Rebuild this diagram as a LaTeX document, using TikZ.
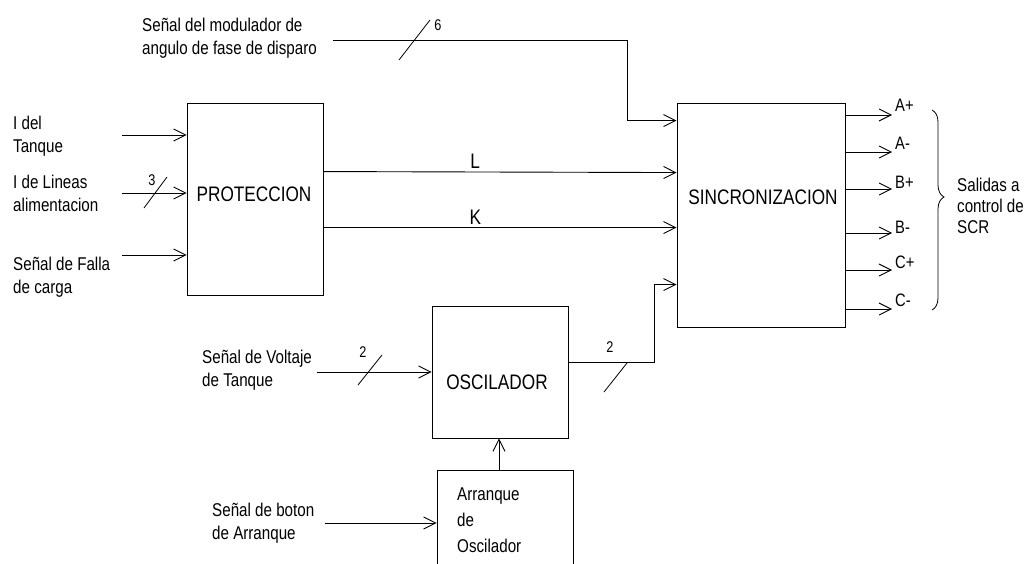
\documentclass[tikz,border=0pt]{standalone}
\usepackage{fontspec}
\setmainfont{Liberation Sans}[FakeStretch=0.82]
\usetikzlibrary{arrows.meta,positioning,calc,decorations.pathreplacing}

\tikzset{
  blk/.style={draw, line width=0.9pt, minimum width=136pt, inner sep=0pt},
  lbl/.style={font=\fontsize{18.5}{23}\selectfont, align=left, inner sep=0pt},
  big/.style={font=\fontsize{21}{25}\selectfont, inner sep=0pt},
  num/.style={font=\fontsize{15.5}{18}\selectfont, inner sep=0pt},
  outlbl/.style={font=\fontsize{18}{22}\selectfont, inner sep=0pt, anchor=west},
  arr/.style={line width=0.9pt, -{Straight Barb[length=12pt,width=12pt]}},
  bus/.style={line width=0.8pt},
}

\begin{document}
\begin{tikzpicture}[x=1pt, y=-1pt]
  \useasboundingbox (0,0) rectangle (1027,564);

  % blocks
  \node[blk, minimum height=192pt] (prot) at (255,199) {};
  \node[big] (protlbl) at (254,194) {PROTECCION};
  \node[blk, minimum width=168pt, minimum height=224pt] (sync) at (761,215) {};
  \node[big] (synclbl) at (763,197) {SINCRONIZACION};
  \node[blk, minimum height=132pt] (osc) at (500,372) {};
  \node[big] (osclbl) at (497,382) {OSCILADOR};
  \node[blk, minimum height=130pt] (arrq) at (505,535) {};
  \node[lbl, font=\fontsize{18.5}{26}\selectfont, anchor=north west] (arrqlbl) at (457,488) {Arranque\\de\\Oscilador};

  % inputs to proteccion
  \node[lbl, anchor=west] (tanqlbl) at (13,136) {I del\\Tanque};
  \node[lbl, anchor=west] (lineaslbl) at (13,193) {I de Lineas\\alimentacion};
  \node[lbl, anchor=west] (fallalbl) at (13,277) {Señal de Falla\\de carga};
  \coordinate (tanq) at (122,135);
  \coordinate (lineas) at (122,193);
  \coordinate (falla) at (122,255);
  \draw[arr] (tanq) -- (tanq -| prot.west);
  \draw[arr] (lineas) -- (lineas -| prot.west);
  \draw[arr] (falla) -- (falla -| prot.west);
  \draw[bus] (155,193) ++(-11,15) -- ++(23,-31);
  \node[num] (n3) at (152,180) {3};

  % proteccion -> sincronizacion
  \draw[arr] ([yshift=-69pt]prot.north east) -- ([yshift=-70pt]sync.north west)
    node[big, pos=0.43, above=3pt] (lblL) {L};
  \draw[arr] ([yshift=-125pt]prot.north east) -- ([yshift=-125pt]sync.north west)
    node[big, pos=0.43, above=3pt] (lblK) {K};

  % modulador de fase
  \node[lbl, anchor=west] (modlbl) at (142,38) {Señal del modulador de\\angulo de fase de disparo};
  \coordinate (mod) at (333,40);
  \draw[arr] (mod) -- (627,40) |- ([yshift=-18pt]sync.north west);
  \draw[bus] (414,40) ++(-15,20) -- ++(31,-40);
  \node[num] (n6) at (438,25) {6};

  % oscilador
  \node[lbl, anchor=west] (voltlbl) at (202,370) {Señal de Voltaje\\de Tanque};
  \coordinate (volt) at (317,372);
  \draw[arr] (volt) -- (osc.west);
  \draw[bus] (370,370) ++(-12,15) -- ++(24,-30);
  \node[num] (n2a) at (363,352) {2};
  \draw[arr] ([yshift=10pt]osc.east) -- (654,362) |- ([yshift=-182pt]sync.north west);
  \draw[bus] (627,363) -- (604,392);
  \node[num] (n2b) at (610,347) {2};

  % arranque
  \node[lbl, anchor=west] (botonlbl) at (212,523) {Señal de boton\\de Arranque};
  \coordinate (boton) at (325,523);
  \draw[arr] (boton) -- (boton -| arrq.west);
  \draw[arr] (arrq.north -| 499,0) -- (osc.south -| 499,0);

  % salidas
  \foreach \yy/\ly/\nm/\txt in {115/105/oap/A+, 152/143/oam/A-, 189/182/obp/B+,
                                233/227/obm/B-, 270/262/ocp/C+, 309/300/ocm/C-} {
    \coordinate (\nm) at (892,\yy);
    \draw[arr] (sync.east |- \nm) -- (\nm);
    \node[outlbl] (\nm lbl) at (895,\ly) {\txt};
  }
  \draw[line width=0.8pt, decorate, decoration={brace, amplitude=12pt, aspect=0.435}]
    (932,110) -- (932,310);
  \node[lbl, font=\fontsize{18.5}{21}\selectfont, anchor=west] (sallbl) at (957,206) {Salidas a\\control de\\SCR};
\end{tikzpicture}
\end{document}
